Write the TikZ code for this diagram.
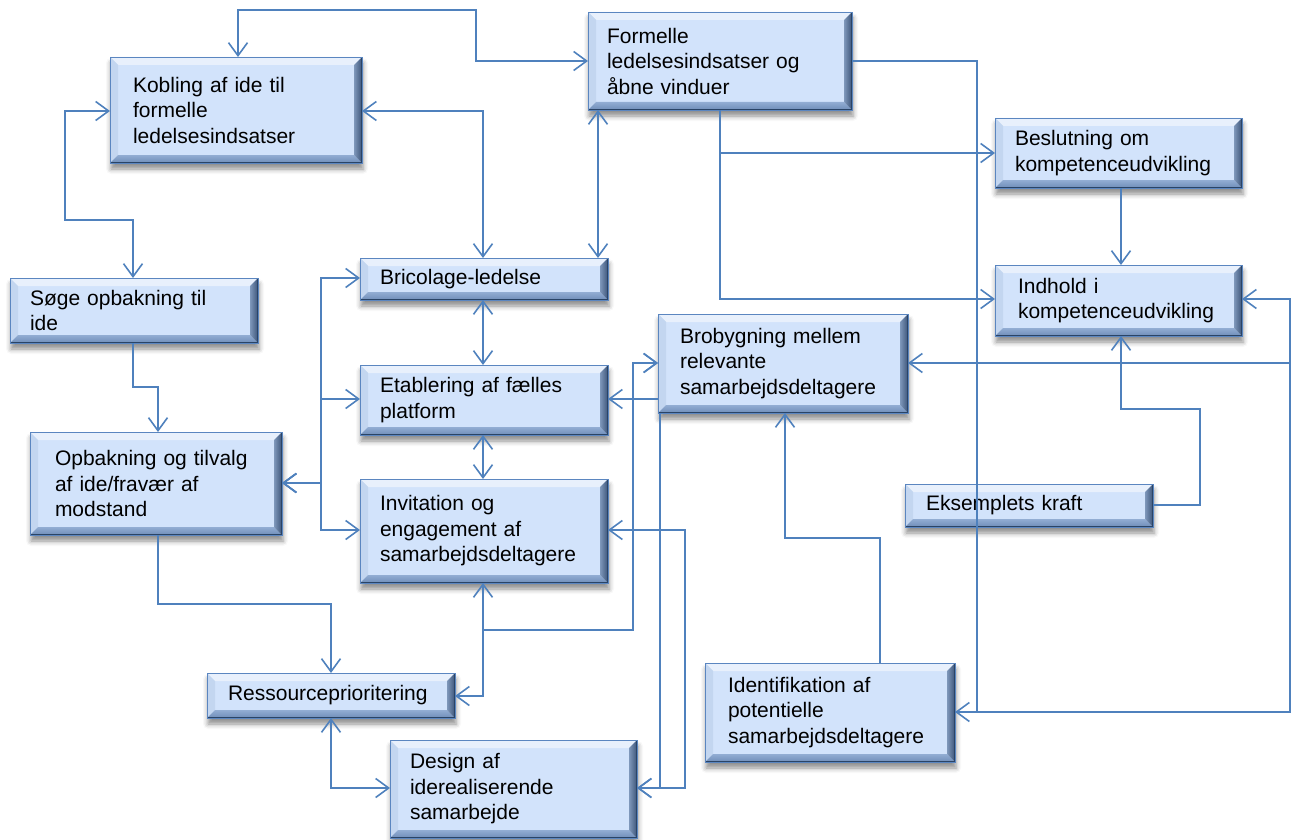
\documentclass[tikz,border=0pt]{standalone}
\usepackage{fontspec}
\setmainfont{Liberation Sans}
\usetikzlibrary{arrows.meta,shadows.blur,calc}
\definecolor{boxfill}{HTML}{D2E3FB}
\definecolor{bevtop}{HTML}{E8F0FC}
\definecolor{bevleft}{HTML}{C3D6F0}
\definecolor{bevright}{HTML}{7E97BA}
\definecolor{bevrightd}{HTML}{3C5478}
\definecolor{bevbot}{HTML}{92ADD3}
\definecolor{bevbotd}{HTML}{6F8DB8}
\definecolor{edgedark}{HTML}{2A4466}
\definecolor{boxline}{HTML}{5B86C0}
\definecolor{lineblue}{HTML}{4F81BD}
\newcommand\boxfont{\fontsize{21}{25.5}\selectfont}
\begin{document}
\begin{tikzpicture}[x=1pt,y=-1pt,
  >={Straight Barb[length=13pt,width=19pt]},
  con/.style={draw=lineblue, line width=1.6pt},
  bx/.style={draw=boxline, line width=0.8pt, fill=boxfill, anchor=north west, align=left,
    font=\boxfont, inner ysep=0pt, outer sep=0pt,
    blur shadow={shadow xshift=1pt, shadow yshift=-6pt, shadow blur radius=5pt, shadow opacity=45},
    path picture={
      \coordinate (ppnw) at (path picture bounding box.north west);
      \coordinate (ppne) at (path picture bounding box.north east);
      \coordinate (ppsw) at (path picture bounding box.south west);
      \coordinate (ppse) at (path picture bounding box.south east);
      \fill[bevtop] (ppnw) -- (ppne) -- ([shift={(-8pt,-8pt)}]ppne) -- ([shift={(8pt,-8pt)}]ppnw) -- cycle;
      \fill[bevleft] (ppnw) -- (ppsw) -- ([shift={(8pt,8pt)}]ppsw) -- ([shift={(8pt,-8pt)}]ppnw) -- cycle;
      \shade[top color=bevbot, bottom color=bevbotd] (ppsw) -- (ppse) -- ([shift={(-8pt,8pt)}]ppse) -- ([shift={(8pt,8pt)}]ppsw) -- cycle;
      \shade[left color=bevright, right color=bevrightd] (ppne) -- (ppse) -- ([shift={(-8pt,8pt)}]ppse) -- ([shift={(-8pt,-8pt)}]ppne) -- cycle;
      \draw[edgedark, line width=2.4pt] (ppne) -- (ppse) -- (ppsw);
    }}
]
\useasboundingbox (0,0) rectangle (1298,840);

% boxes
\node[bx, text width=206pt, inner xsep=23pt, minimum height=106pt] (kob) at (110,57) {Kobling af ide til\\formelle\\ledelsesindsatser};
\node[bx, text width=226pt, inner xsep=19pt, minimum height=98pt] (form) at (588,12) {Formelle\\ledelsesindsatser og\\åbne vinduer};
\node[bx, text width=207pt, inner xsep=20pt, minimum height=70pt] (besl) at (995,118) {Beslutning om\\kompetenceudvikling};
\node[bx, text width=201pt, inner xsep=23pt, minimum height=71pt] (indh) at (995,265) {Indhold i\\kompetenceudvikling};
\node[bx, text width=208pt, inner xsep=20pt, minimum height=65pt] (soge) at (10,278) {Søge opbakning til\\ide};
\node[bx, text width=208pt, inner xsep=20pt, minimum height=42pt] (bric) at (360,258) {Bricolage-ledelse};
\node[bx, text width=206pt, inner xsep=22pt, minimum height=99pt] (brob) at (658,314) {Brobygning mellem\\relevante\\samarbejdsdeltagere};
\node[bx, text width=208pt, inner xsep=20pt, minimum height=70pt] (etab) at (360,365) {Etablering af fælles\\platform};
\node[bx, text width=202pt, inner xsep=25pt, minimum height=103pt] (opb) at (30,432) {Opbakning og tilvalg\\af ide/fravær af\\modstand};
\node[bx, text width=208pt, inner xsep=20pt, minimum height=104pt] (inv) at (360,479) {Invitation og\\engagement af\\samarbejdsdeltagere};
\node[bx, text width=206pt, inner xsep=21pt, minimum height=43pt] (eks) at (905,484) {Eksemplets kraft};
\node[bx, text width=206pt, inner xsep=21pt, minimum height=45pt] (ress) at (207,673) {Ressourceprioritering};
\node[bx, text width=204pt, inner xsep=23pt, minimum height=99pt] (ident) at (705,663) {Identifikation af\\potentielle\\samarbejdsdeltagere};
\node[bx, text width=207pt, inner xsep=20pt, minimum height=98pt] (design) at (390,740) {Design af\\iderealiserende\\samarbejde};

% connectors
\draw[con,<->] (238,0 |- kob.north) -- (238,10) -- (476,10) -- (476,61) -- (form.west |- 0,61);
\draw[con,<->] (kob.west |- 0,111) -- (65,111) -- (65,220) -- (133,220) -- (133,0 |- soge.north);
\draw[con,<->] (kob.east |- 0,111) -- (483,111) -- (483,0 |- bric.north);
\draw[con,<->] (598,0 |- form.south) -- (598,0 |- bric.north);
\draw[con,<->] (opb.east |- 0,483) -- (321,483) -- (321,278) -- (bric.west |- 0,278);
\draw[con,<->] (opb.east |- 0,483) -- (321,483) -- (321,399) -- (etab.west |- 0,399);
\draw[con,<->] (opb.east |- 0,483) -- (321,483) -- (321,530) -- (inv.west |- 0,530);
\draw[con,<->] (483,0 |- bric.south) -- (483,0 |- etab.north);
\draw[con,<->] (483,0 |- etab.south) -- (483,0 |- inv.north);
\draw[con,->] (133,0 |- soge.south) -- (133,387) -- (158,387) -- (158,0 |- opb.north);
\draw[con,->] (158,0 |- opb.south) -- (158,604) -- (331,604) -- (331,0 |- ress.north);
\draw[con,->] (brob.west |- 0,399) -- (etab.east |- 0,399);
\draw[con,<->] (483,0 |- inv.south) -- (483,630) -- (633,630) -- (633,363) -- (brob.west |- 0,363);
\draw[con,<->] (ress.east |- 0,696) -- (483,696) -- (483,630) -- (633,630) -- (633,363) -- (brob.west |- 0,363);
\draw[con,<->] (inv.east |- 0,530) -- (685,530) -- (685,788) -- (design.east |- 0,788);
\draw[con,->] (660,0 |- brob.south) -- (660,788) -- (design.east |- 0,788);
\draw[con,<->] (331,0 |- ress.south) -- (331,788) -- (design.west |- 0,788);
\draw[con,->] (form.east |- 0,61) -- (977,61) -- (977,712) -- (ident.east |- 0,712);
\draw[con,->] (720,0 |- form.south) -- (720,153) -- (besl.west |- 0,153);
\draw[con,->] (720,0 |- form.south) -- (720,299) -- (indh.west |- 0,299);
\draw[con,->] (1121,0 |- besl.south) -- (1121,0 |- indh.north);
\draw[con,->] (ident.east |- 0,712) -- (1290,712) -- (1290,299) -- (indh.east |- 0,299);
\draw[con,->] (ident.east |- 0,712) -- (1290,712) -- (1290,363) -- (brob.east |- 0,363);
\draw[con,->] (eks.east |- 0,505) -- (1200,505) -- (1200,409) -- (1121,409) -- (1121,0 |- indh.south);
\draw[con,->] (880,0 |- ident.north) -- (880,538) -- (785,538) -- (785,0 |- brob.south);
\end{tikzpicture}
\end{document}
